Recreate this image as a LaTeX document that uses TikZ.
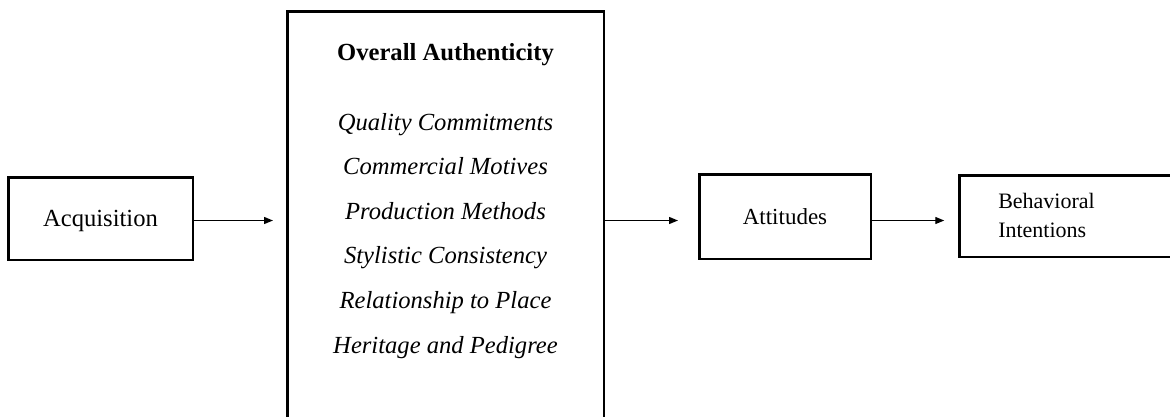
\documentclass[tikz,border=0pt]{standalone}
\usepackage{fontspec}
\setmainfont{Liberation Serif}
\usetikzlibrary{arrows.meta}
\tikzset{
  boxnode/.style={draw=black, line width=2.5pt, rectangle, inner sep=0pt,
    font=\fontsize{24.6}{29}\selectfont, text height=16.3pt, text depth=0pt},
  itemtxt/.style={inner sep=0pt, anchor=base, font=\fontsize{24.6}{29}\selectfont\itshape},
  headtxt/.style={inner sep=0pt, anchor=base, font=\fontsize{24.6}{29}\selectfont\bfseries},
  arr/.style={line width=1.3pt, -{Triangle[length=9pt,width=7pt]}}
}
\begin{document}
\begin{tikzpicture}[x=1pt,y=-1pt]
\useasboundingbox (0,0) rectangle (1170,416);
\fill[white] (0,0) rectangle (1170,416);
\clip (0,0) rectangle (1170,416);
% boxes
\node[boxnode, minimum width=184.5pt, minimum height=82.5pt] (acq) at (100.5,218.5) {Acquisition};
\node[boxnode, minimum width=316.5pt, minimum height=428pt] (oa) at (445.5,225.25) {};
\node[boxnode, minimum width=171.5pt, minimum height=84.5pt,
      font=\fontsize{23}{29}\selectfont, text height=15.2pt] (att) at (785,216.5) {Attitudes};
\node[boxnode, anchor=west, minimum height=81.5pt, inner xsep=38.75pt, text width=200pt,
      align=left, font=\fontsize{22}{29}\selectfont, text height=14.6pt, text depth=29pt]
      (beh) at (958.25,216) {Behavioral\\Intentions};
% texts inside the big box
\node[headtxt] (t0) at (445.5,60) {Overall Authenticity};
\node[itemtxt] (t1) at (445.5,130) {Quality Commitments};
\node[itemtxt] (t2) at (445.5,174.6) {Commercial Motives};
\node[itemtxt] (t3) at (445.5,219.2) {Production Methods};
\node[itemtxt] (t4) at (445.5,263.8) {Stylistic Consistency};
\node[itemtxt] (t5) at (445.5,308.4) {Relationship to Place};
\node[itemtxt] (t6) at (445.5,353) {Heritage and Pedigree};
% connectors
\draw[arr, shorten >=13pt] ([yshift=-2pt]acq.east) -- ([yshift=-2pt]acq.east -| oa.west);
\draw[arr, shorten >=20pt] ([yshift=-4pt]att.west -| oa.east) -- ([yshift=-4pt]att.west);
\draw[arr, shorten >=14pt] ([yshift=-4pt]att.east) -- ([yshift=-4pt]att.east -| beh.west);
\end{tikzpicture}
\end{document}
